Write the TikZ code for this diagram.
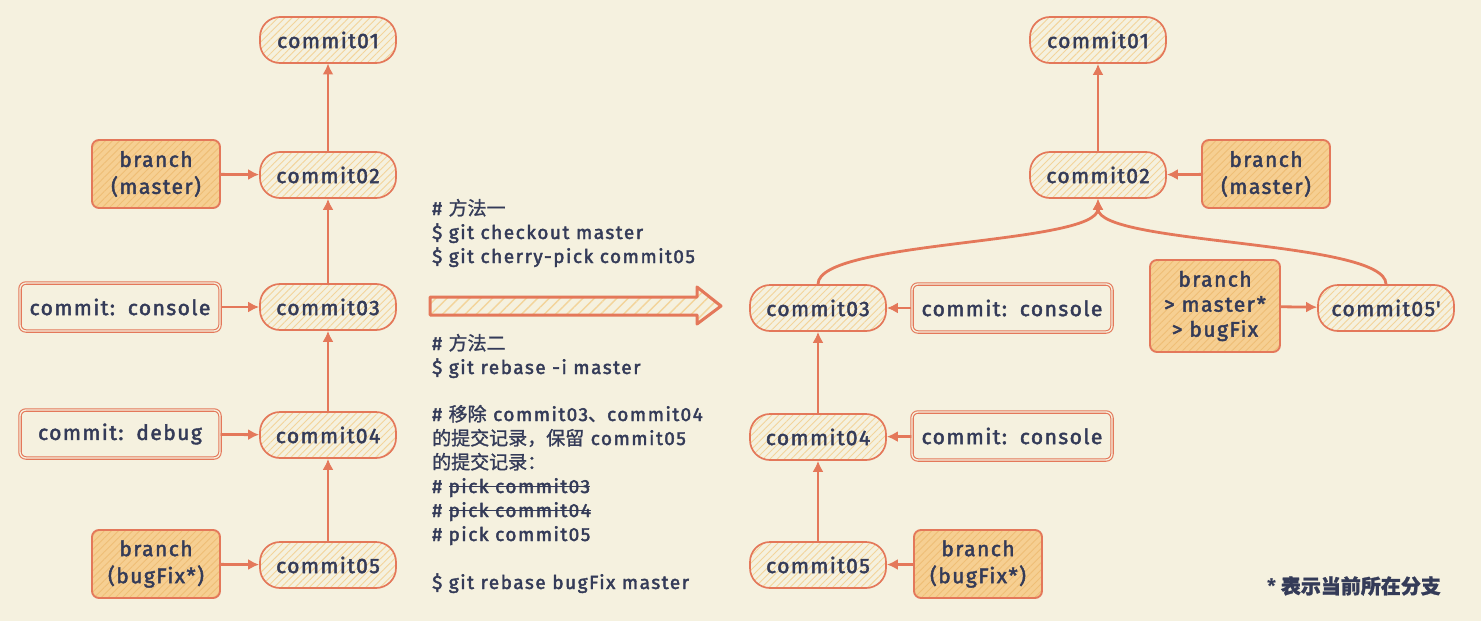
\documentclass[tikz,border=0pt]{standalone}
\usepackage{fontspec}
\setmainfont{Fira Sans}
\newfontfamily\nf{Fira Sans}[LetterSpace=7, FakeBold=2.2]
\newfontfamily\cf{Fira Sans}[LetterSpace=8, FakeBold=2.2]
\newfontfamily\cjk{Noto Sans CJK SC}[FakeBold=1.2]
\usetikzlibrary{arrows.meta,patterns.meta}
\newcommand\mystrike[1]{\setbox0\hbox{#1}\rlap{\raisebox{0.3em}{\rule{\wd0}{1.4pt}}}\box0}
\definecolor{bg}{HTML}{F5F1DF}
\definecolor{orr}{HTML}{E4785A}
\definecolor{ink}{HTML}{343B58}
\definecolor{hatch}{HTML}{F3D49A}
\definecolor{bfill}{HTML}{F6CF92}
\definecolor{bhatch}{HTML}{EFBE76}
\tikzset{
  commit/.style={rounded corners=20pt, draw=orr, line width=1.7pt,
    minimum width=136pt, minimum height=46pt, inner sep=0pt,
    preaction={fill=bg},
    pattern={Lines[angle=45,distance=5pt,line width=0.9pt]}, pattern color=hatch,
    text=ink, font=\nf\fontsize{21}{22}\selectfont},
  branch/.style={rounded corners=7pt, draw=orr, line width=1.9pt,
    minimum width=128pt, minimum height=68pt, inner sep=0pt, align=center,
    preaction={fill=bfill},
    pattern={Lines[angle=45,distance=5pt,line width=0.9pt]}, pattern color=bhatch,
    text=ink, font=\nf\fontsize{21}{27}\selectfont},
  msgbox/.style={rounded corners=6pt, draw=orr, line width=1.1pt,
    double=bg, double distance=1.3pt,
    minimum width=200pt, minimum height=48pt, inner sep=0pt,
    fill=bg, text=ink, font=\nf\fontsize{21}{22}\selectfont},
  edge/.style={draw=orr, line width=2.8pt, -{Latex[length=11pt,width=11pt]}},
  code/.style={anchor=west, inner sep=0pt, text=ink, text height=12pt, text depth=4pt,
    yshift=-2pt, font=\cf\fontsize{19}{20}\selectfont},
  bigarrow/.style={draw=orr, line width=3pt, line join=round,
    preaction={fill=bg},
    pattern={Lines[angle=45,distance=8pt,line width=1.4pt]}, pattern color=hatch},
}
\begin{document}
\begin{tikzpicture}[x=1pt,y=-1pt]
\path[fill=bg] (0,0) rectangle (1481,621);
\useasboundingbox (0,0) rectangle (1481,621);

% ---------- left graph ----------
\node[commit] (l01) at (328,40) {commit01};
\node[commit] (l02) at (328,175) {commit02};
\node[commit] (l03) at (328,307) {commit03};
\node[commit] (l04) at (328,435) {commit04};
\node[commit] (l05) at (328,565) {commit05};
\node[branch] (lbm) at (156,174) {branch\\(master)};
\node[msgbox] (lcc) at (120,307) {commit:\, console};
\node[msgbox] (lcd) at (120,434) {commit:\, debug};
\node[branch] (lbb) at (156,564) {branch\\(bugFix*)};

\draw[edge] (l02) -- (l01);
\draw[edge] (l03) -- (l02);
\draw[edge] (l04) -- (l03);
\draw[edge] (l05) -- (l04);
\draw[edge] (lbm) -- (l02);
\draw[edge] (lcc) -- (l03);
\draw[edge] (lcd) -- (l04);
\draw[edge] (lbb) -- (l05);

% ---------- middle text ----------
\node[code] (t1) at (432,209) {\# {\cjk 方法一}};
\node[code] (t2) at (432,233) {\$ git checkout master};
\node[code] (t3) at (432,257) {\$ git cherry-pick commit05};
\node[code] (t4) at (432,344) {\# {\cjk 方法二}};
\node[code] (t5) at (432,368) {\$ git rebase -i master};
\node[code] (t6) at (432,415) {\# {\cjk 移除} commit03{\cjk 、}commit04};
\node[code] (t7) at (432,439) {{\cjk 的提交记录，保留} commit05};
\node[code] (t8) at (432,463) {{\cjk 的提交记录：}};
\node[code] (t9) at (432,487) {\# \mystrike{pick commit03}};
\node[code] (t10) at (432,511) {\# \mystrike{pick commit04}};
\node[code] (t11) at (432,535) {\# pick commit05};
\node[code] (t12) at (432,583) {\$ git rebase bugFix master};

\draw[bigarrow] (430,297) -- (697,297) -- (697,287) -- (721,306) -- (697,324) -- (697,315) -- (430,315) -- cycle;

% ---------- right graph ----------
\node[commit] (r01) at (1098,40) {commit01};
\node[commit] (r02) at (1098,175) {commit02};
\node[branch] (rbm) at (1266,174) {branch\\(master)};
\node[commit] (r03) at (818,308) {commit03};
\node[msgbox] (rc1) at (1012,308) {commit:\, console};
\node[commit] (r04) at (818,437) {commit04};
\node[msgbox] (rc2) at (1012,436) {commit:\, console};
\node[commit] (r05) at (818,565) {commit05};
\node[branch] (rbb) at (978,564) {branch\\(bugFix*)};
\node[branch, minimum width=130pt, minimum height=92pt,
      font=\nf\fontsize{21}{25}\selectfont] (rbg) at (1215,306) {branch\\> master*\\> bugFix};
\node[commit] (r05p) at (1386,308) {commit05'};

\draw[edge] (r02) -- (r01);
\draw[edge] (r04) -- (r03);
\draw[edge] (r05) -- (r04);
\draw[edge] (rbm) -- (r02);
\draw[edge] (rc1) -- (r03);
\draw[edge] (rc2) -- (r04);
\draw[edge] (rbb) -- (r05);
\draw[edge] (rbg) -- (r05p);
\draw[edge] (r03.north) .. controls (818,240) and (1098,245) .. (r02.south);
\draw[edge] (r05p.north) .. controls (1386,240) and (1098,245) .. (r02.south);

\node[inner sep=0pt, text=ink, font=\fontsize{20}{20}\selectfont\bfseries] (legend) at (1354,586) {* {\cjk 表示当前所在分支}};
\end{tikzpicture}
\end{document}
